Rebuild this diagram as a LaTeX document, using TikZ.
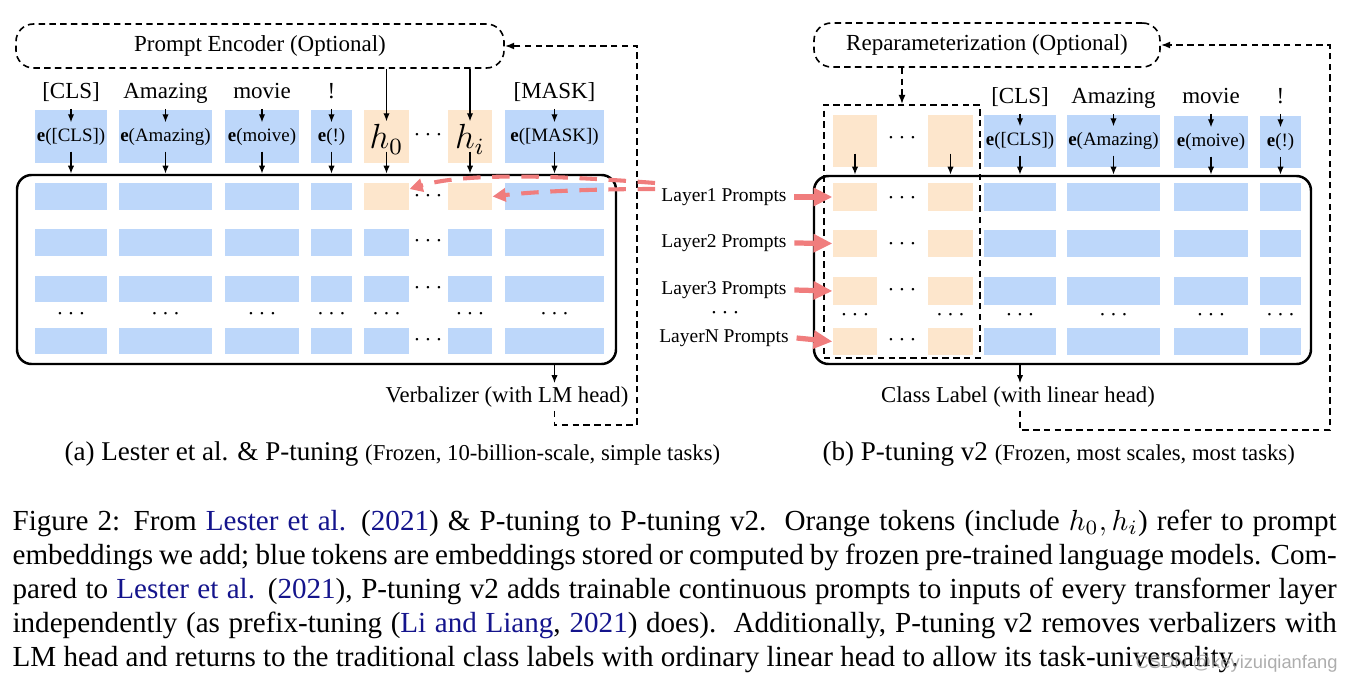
\documentclass[tikz,border=0pt]{standalone}
\usepackage{fontspec}
\setmainfont{Liberation Serif}
\newfontfamily\wmfont{Liberation Sans}
\usetikzlibrary{arrows.meta,fit,calc}
\definecolor{bluebox}{RGB}{189,215,250}
\definecolor{orangebox}{RGB}{253,230,204}
\definecolor{redarrow}{RGB}{240,125,125}
\definecolor{citeblue}{RGB}{20,20,140}
\newcommand{\pu}{0.3436pt}
\newcommand{\cb}[1]{\textcolor{citeblue}{#1}}
\begin{document}
\begin{tikzpicture}[x=0.3436pt,y=-0.3436pt,
  bb/.style={fill=bluebox,draw=none,inner sep=0pt},
  ob/.style={fill=orangebox,draw=none,inner sep=0pt},
  etxt/.style={font=\fontsize{6.5}{7.5}\selectfont,inner sep=0pt},
  htxt/.style={font=\fontsize{12}{14}\selectfont,inner sep=0pt},
  lab/.style={font=\fontsize{7.9}{9}\selectfont,inner sep=1pt,anchor=base,text depth=0.25em},
  arr/.style={line width=0.5pt,-{Latex[length=2.8pt,width=2.2pt]}},
  dline/.style={line width=0.55pt,dash pattern=on 2.2pt off 1.5pt},
  dbox/.style={draw,dline,rounded corners=6pt,inner sep=0pt},
  btitle/.style={font=\fontsize{7.9}{9}\selectfont,inner sep=0pt},
  prbox/.style={draw,dline,inner sep=0pt},
  bigbox/.style={draw,line width=0.85pt,rounded corners=5pt,inner sep=0pt},
  dots/.style={font=\fontsize{7.9}{9}\selectfont,inner sep=0pt},
  laylab/.style={font=\fontsize{6.7}{8}\selectfont,inner sep=2.5pt},
  outlab/.style={font=\fontsize{7.8}{9}\selectfont,inner sep=1pt},
  reddash/.style={draw=redarrow,line width=1.4pt,dash pattern=on 6pt off 4pt,-{Triangle[length=4.5pt,width=4.5pt]}},
  redsolid/.style={draw=redarrow,line width=1.8pt,-{Triangle[length=6.5pt,width=6pt]}},
  capline/.style={anchor=base west,inner sep=0pt,font=\fontsize{10}{12}\selectfont},
  subcap/.style={anchor=base west,inner sep=0pt,font=\fontsize{9.3}{11}\selectfont},
]
\useasboundingbox (0,0) rectangle (1352,683);

% ================= LEFT (a) =================
\node[dbox,fit={(16,24)(504,68)}] (penc) {};
\node[btitle] (pencT) at (penc.center) {Prompt Encoder (Optional)};
\node[bigbox,fit={(17,175)(616,364)}] (bigL) {};

% embeddings
\node[bb,fit={(35,110)(107,163)}] (eCLS) {};
\node[bb,fit={(119,110)(212,163)}] (eAma) {};
\node[bb,fit={(225,110)(299,163)}] (eMov) {};
\node[bb,fit={(311,110)(352,163)}] (eExc) {};
\node[ob,fit={(364,110)(409,163)}] (h0) {};
\node[ob,fit={(448,110)(492,163)}] (hi) {};
\node[bb,fit={(505,110)(604,163)}] (eMask) {};
\node[etxt] (teCLS) at (eCLS.center) {\textbf{e}([CLS])};
\node[etxt] (teAma) at (eAma.center) {\textbf{e}(Amazing)};
\node[etxt] (teMov) at (eMov.center) {\textbf{e}(moive)};
\node[etxt] (teExc) at (eExc.center) {\textbf{e}(!)};
\node[htxt] (th0) at ([yshift=-1pt]h0.center) {$h_0$};
\node[htxt] (thi) at ([yshift=-1pt]hi.center) {$h_i$};
\node[etxt] (teMask) at (eMask.center) {\textbf{e}([MASK])};
\node[dots] (ldtop) at (428,135) {$\cdots$};

% token labels
\node[lab] (lCLS) at (71,98) {[CLS]};
\node[lab] (lAma) at (165.5,98) {Amazing};
\node[lab] (lMov) at (262,98) {movie};
\node[lab] (lExc) at (331.5,98) {!};
\node[lab] (lMask) at (554.5,98) {[MASK]};

\foreach \l/\e in {lCLS/eCLS,lAma/eAma,lMov/eMov,lExc/eExc,lMask/eMask}{
  \draw[arr] (\l.south) -- ([yshift=-13*\pu]\e.north);
}
\foreach \e in {h0,hi}{
  \draw[arr] (\e |- penc.south) -- ([yshift=-12*\pu]\e.north);
}
\foreach \e in {eCLS,eAma,eMov,eExc,h0,hi,eMask}{
  \draw[arr] ([yshift=12*\pu]\e.south) -- (\e.south |- bigL.north);
}

% layer rows
\foreach \n/\a/\b in {1/35/107,2/119/212,3/225/299,4/311/352,5/364/409,6/448/492,7/505/604}{
  \foreach \r/\t/\u in {2/229/256,3/276/302,4/328/354}{
    \node[bb,fit={(\a,\t)(\b,\u)}] (L\r-\n) {};
  }
  \node[dots] (Ld-\n) at ({(\a+\b)/2},314) {$\cdots$};
}
\foreach \n/\a/\b in {1/35/107,2/119/212,3/225/299,4/311/352,7/505/604}{
  \node[bb,fit={(\a,183)(\b,210)}] (L1-\n) {};
}
\node[ob,fit={(364,183)(409,210)}] (L1-5) {};
\node[ob,fit={(448,183)(492,210)}] (L1-6) {};
\foreach \r/\y in {1/196,2/241,3/288,4/340}{
  \node[dots] (Lrd\r) at (428,\y) {$\cdots$};
}

% verbalizer
\node[outlab] (verb) at (507,397) {Verbalizer (with LM head)};
\draw[arr] (eMask |- bigL.south) -- (eMask |- verb.north);
\coordinate (fbL) at (637,425);
\draw[dline,-{Latex[length=3.2pt,width=2.4pt]}] (verb.south -| eMask) |- (fbL) |- (penc.east);

\node[subcap] (capa) at (64,460) {(a) Lester et al. \& P-tuning {\fontsize{7.8}{9}\selectfont (Frozen, 10-billion-scale, simple tasks)}};

% ================= RIGHT (b) =================
\node[dbox,fit={(814,23)(1160,67)}] (rep) {};
\node[btitle] (repT) at (rep.center) {Reparameterization (Optional)};
\node[bigbox,fit={(814,176)(1311,364)}] (bigR) {};

\node[ob,fit={(833,115)(877,167)}] (pr1) {};
\node[ob,fit={(928,115)(973,167)}] (pr2) {};
\node[dots] (rdtop) at (902,138) {$\cdots$};
\node[bb,fit={(984,115)(1056,167)}] (reCLS) {};
\node[bb,fit={(1067,115)(1160,167)}] (reAma) {};
\node[bb,fit={(1174,116)(1248,168)}] (reMov) {};
\node[bb,fit={(1260,116)(1301,168)}] (reExc) {};
\node[etxt] (treCLS) at (reCLS.center) {\textbf{e}([CLS])};
\node[etxt] (treAma) at (reAma.center) {\textbf{e}(Amazing)};
\node[etxt] (treMov) at (reMov.center) {\textbf{e}(moive)};
\node[etxt] (treExc) at (reExc.center) {\textbf{e}(!)};

\node[lab] (rlCLS) at (1020,103) {[CLS]};
\node[lab] (rlAma) at (1113.5,103) {Amazing};
\node[lab] (rlMov) at (1211,103) {movie};
\node[lab] (rlExc) at (1280.5,103) {!};

\foreach \l/\e in {rlCLS/reCLS,rlAma/reAma,rlMov/reMov,rlExc/reExc}{
  \draw[arr] (\l.south) -- ([yshift=-12*\pu]\e.north);
}
\foreach \e in {pr1,pr2}{
  \draw[arr] ([yshift=14*\pu]\e.south) -- (\e.south |- bigR.north);
}
\foreach \e in {reCLS,reAma,reMov,reExc}{
  \draw[arr] ([yshift=12*\pu]\e.south) -- (\e.south |- bigR.north);
}

\foreach \n/\a/\b in {1/833/877,2/928/973}{
  \foreach \r/\t/\u in {1/183/211,2/230/257,3/277/305,4/328/355}{
    \node[ob,fit={(\a,\t)(\b,\u)}] (R\r-\n) {};
  }
  \node[dots] (Rd-\n) at ({(\a+\b)/2},315) {$\cdots$};
}
\foreach \n/\a/\b in {3/984/1056,4/1067/1160,5/1174/1248,6/1260/1301}{
  \foreach \r/\t/\u in {1/183/211,2/230/257,3/277/305,4/328/355}{
    \node[bb,fit={(\a,\t)(\b,\u)}] (R\r-\n) {};
  }
  \node[dots] (Rd-\n) at ({(\a+\b)/2},315) {$\cdots$};
}
\foreach \r/\y in {1/198,2/244,3/290,4/340}{
  \node[dots] (Rrd\r) at (902,\y) {$\cdots$};
}

\node[prbox,fit={(824,105)(980,358)}] (prect) {};
\draw[dline,-{Latex[length=3.2pt,width=2.4pt]}] (rep.south -| rdtop) -- (rdtop |- prect.north);

% layer labels
\node[laylab] (lay1) at (724,197) {Layer1 Prompts};
\node[laylab] (lay2) at (724,243) {Layer2 Prompts};
\node[laylab] (lay3) at (724,290) {Layer3 Prompts};
\node[dots] (layd) at (725,313) {$\cdots$};
\node[laylab] (lay4) at (724,338) {LayerN Prompts};
\foreach \i in {1,2,3,4}{
  \draw[redsolid] (lay\i.east) -- (R\i-1.west);
}

% class label
\node[outlab] (cls) at (1018,397) {Class Label (with linear head)};
\draw[arr] (reCLS |- bigR.south) -- (reCLS |- cls.north);
\coordinate (fbR) at (1330,430);
\draw[dline,-{Latex[length=3.2pt,width=2.4pt]}] (cls.south -| reCLS) |- (fbR) |- (rep.east);

\node[subcap] (capb) at (822,460) {(b) P-tuning v2 {\fontsize{7.8}{9}\selectfont (Frozen, most scales, most tasks)}};

% red dashed arrows (left)
\coordinate (rs1) at (655,183);
\coordinate (rs2) at (655,189);
\draw[reddash] (rs1) .. controls (540,174) and (460,174) .. ([yshift=7.5*\pu]L1-5.east);
\draw[reddash] (rs2) .. controls (600,189) and (540,191) .. (L1-6.east);

% ================= CAPTION =================
\node[capline] (cap1) at (12,530) {\makebox[455pt][s]{Figure 2: From \cb{Lester et~al.} (\cb{2021}) \& P-tuning to P-tuning v2.\ \ Orange tokens (include $h_0, h_i$) refer to prompt}};
\node[capline] (cap2) at (12,564) {\makebox[455pt][s]{embeddings we add; blue tokens are embeddings stored or computed by frozen pre-trained language models. Com-}};
\node[capline] (cap3) at (12,598) {\makebox[455pt][s]{pared to \cb{Lester et~al.} (\cb{2021}), P-tuning v2 adds trainable continuous prompts to inputs of every transformer layer}};
\node[capline] (cap4) at (12,632) {\makebox[455pt][s]{independently (as prefix-tuning (\cb{Li and Liang}, \cb{2021}) does).\ \ Additionally, P-tuning v2 removes verbalizers with}};
\node[capline] (cap5) at (12,666) {LM head and returns to the traditional class labels with ordinary linear head to allow its task-universality.};

\node[anchor=base west,inner sep=0pt,text=black!40,opacity=0.8,font=\wmfont\fontsize{6.3}{7}\selectfont] (wm) at (1135,668) {CSDN @keyizuiqianfang};
\end{tikzpicture}
\end{document}
